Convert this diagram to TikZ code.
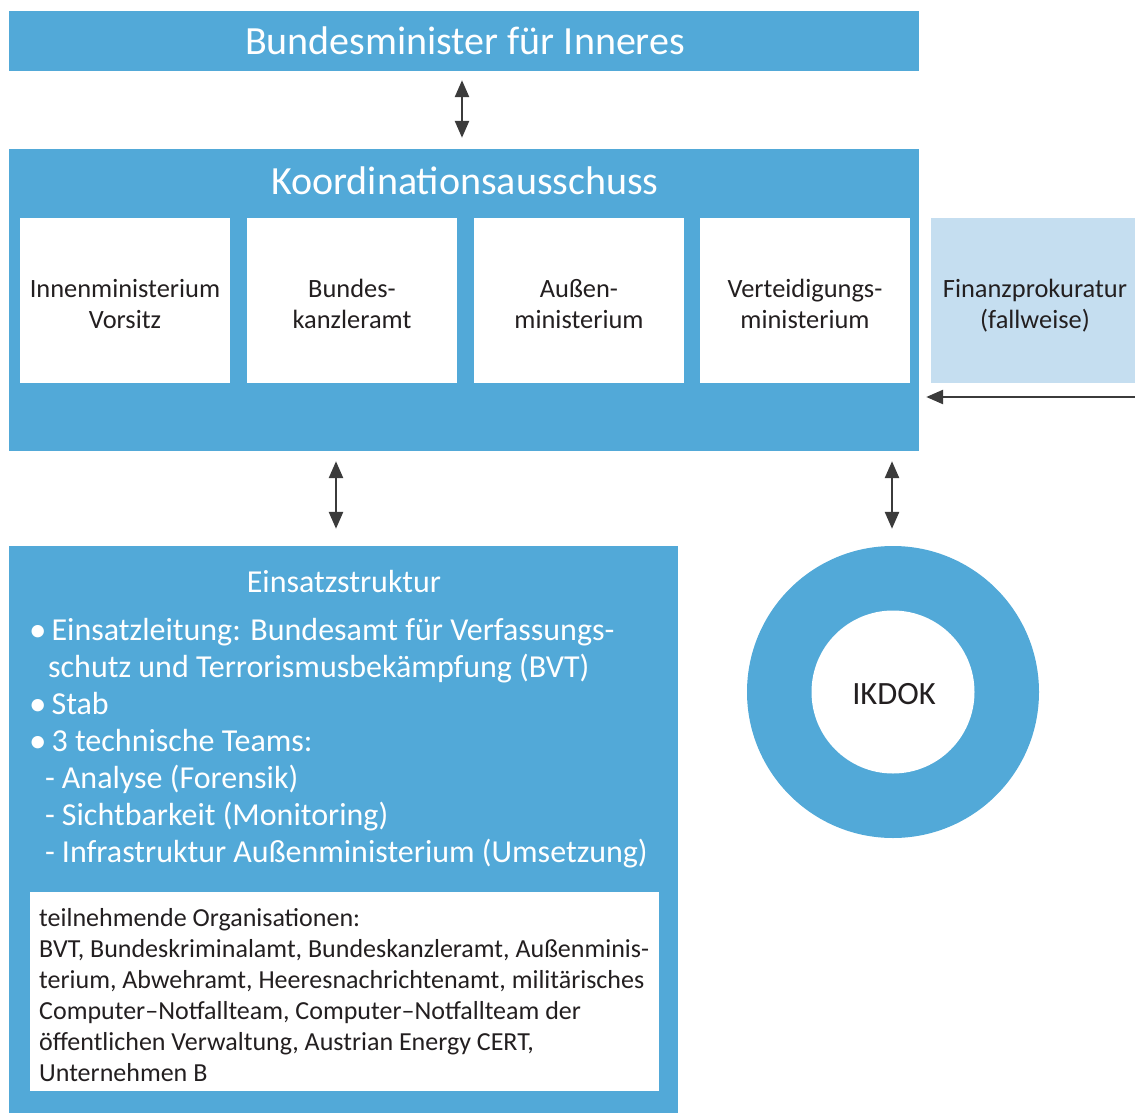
\documentclass[tikz,border=0pt]{standalone}
\usepackage{fontspec}
\setmainfont{Carlito}
\usetikzlibrary{arrows.meta,calc}
\definecolor{bl}{RGB}{82,169,216}
\definecolor{lb}{RGB}{197,222,240}
\definecolor{ag}{RGB}{59,59,59}
\definecolor{tx}{RGB}{35,31,32}
\tikzset{
  bluebox/.style={fill=bl,draw=none,inner sep=0pt},
  whitebox/.style={fill=white,draw=none,minimum width=210pt,minimum height=165pt,inner sep=0pt},
  boxtext/.style={align=center,text=tx,font=\fontsize{26.4}{31}\selectfont,inner sep=0pt,anchor=base},
  arr/.style={draw=ag,line width=2.6pt,{Triangle[length=17pt,width=14pt]}-{Triangle[length=17pt,width=14pt]}},
  arrone/.style={draw=ag,line width=2.6pt,-{Triangle[length=17pt,width=14pt]}},
  wt/.style={text=white,inner sep=0pt},
  line/.style={text=white,inner sep=0pt,anchor=base west,font=\fontsize{32}{37}\selectfont},
  sline/.style={text=tx,inner sep=0pt,anchor=base west,font=\fontsize{26}{31}\selectfont}
}
\newcommand{\bul}{\raisebox{-1.5pt}{\fontsize{35}{37}\selectfont•}\hspace{5pt}}
\newcommand{\dsh}{-\hspace{7pt}}
\begin{document}
\begin{tikzpicture}[x=1pt,y=-1pt]
\useasboundingbox (0,0) rectangle (1135,1113);
% top box
\node[bluebox,minimum width=910pt,minimum height=60pt] (bmi) at (464,41) {};
\node[wt,font=\fontsize{40}{46}\selectfont,anchor=base] (bmit) at (465,55) {Bundesminister für Inneres};
% Koordinationsausschuss
\node[bluebox,minimum width=910pt,minimum height=302pt] (koord) at (464,300) {};
\node[wt,font=\fontsize{40}{46}\selectfont,anchor=base] (koordt) at (465,194) {Koordinationsausschuss};
\node[whitebox] (inn) at (125,300.5) {};
\node[whitebox] (bka) at (352,300.5) {};
\node[whitebox] (aus) at (579,300.5) {};
\node[whitebox] (ver) at (805,300.5) {};
\node[whitebox,fill=lb,minimum width=204pt] (fin) at (1033,300.5) {};
\node[boxtext] (innt) at (125,328) {Innenministerium\\Vorsitz};
\node[boxtext] (bkat) at (352,328) {Bundes-\\kanzleramt};
\node[boxtext] (aust) at (579,328) {Außen-\\ministerium};
\node[boxtext] (vert) at (805,328) {Verteidigungs-\\ministerium};
\node[boxtext] (fint) at (1035,328) {Finanzprokuratur\\(fallweise)};
% Einsatzstruktur
\node[bluebox,minimum width=669pt,minimum height=567pt] (ein) at (343.5,829.5) {};
\node[wt,font=\fontsize{32}{37}\selectfont,anchor=base] (eint) at (344,592) {Einsatzstruktur};
\node[line] (l1) at (29,640) {\bul Einsatzleitung: Bundesamt für Verfassungs-};
\node[line] (l2) at (48,677) {schutz und Terrorismusbekämpfung (BVT)};
\node[line] (l3) at (29,714) {\bul Stab};
\node[line] (l4) at (29,751) {\bul 3 technische Teams:};
\node[line] (l5) at (45,788) {\dsh Analyse (Forensik)};
\node[line] (l6) at (45,825) {\dsh Sichtbarkeit (Monitoring)};
\node[line] (l7) at (45,862) {\dsh Infrastruktur Außenministerium (Umsetzung)};
\node[fill=white,minimum width=629pt,minimum height=199pt,inner sep=0pt] (org) at (344.5,991.5) {};
\node[sline] (o1) at (39,926) {teilnehmende Organisationen:};
\node[sline] (o2) at (39,957) {BVT, Bundeskriminalamt, Bundeskanzleramt, Außenminis-};
\node[sline] (o3) at (39,988) {terium, Abwehramt, Heeresnachrichtenamt, militärisches};
\node[sline] (o4) at (39,1019) {Computer–Notfallteam, Computer–Notfallteam der};
\node[sline] (o5) at (39,1050) {öffentlichen Verwaltung, Austrian Energy CERT,};
\node[sline] (o6) at (39,1081) {Unternehmen B};
% IKDOK ring
\node[circle,fill=bl,minimum size=292pt,inner sep=0pt] (ring) at (893,692) {};
\node[circle,fill=white,minimum size=163pt,inner sep=0pt] (ikdok) at (893,692) {};
\node[text=tx,font=\fontsize{32.5}{36}\selectfont,inner sep=0pt,anchor=base] (ikdokt) at (894,704) {IKDOK};
% arrows
\draw[arr,shorten <=9pt,shorten >=11pt] (bmi.south -| 462,0) -- (koord.north -| 462,0);
\coordinate (finin) at (1135,397);
\draw[arrone,shorten >=7pt] (finin) -- (finin -| koord.east);
\draw[arr,shorten <=10pt,shorten >=17pt] (koord.south -| 336,0) -- (ein.north -| 336,0);
\draw[arr,shorten <=10pt,shorten >=17pt] (koord.south -| 892,0) -- (ring.north -| 892,0);
\end{tikzpicture}
\end{document}
